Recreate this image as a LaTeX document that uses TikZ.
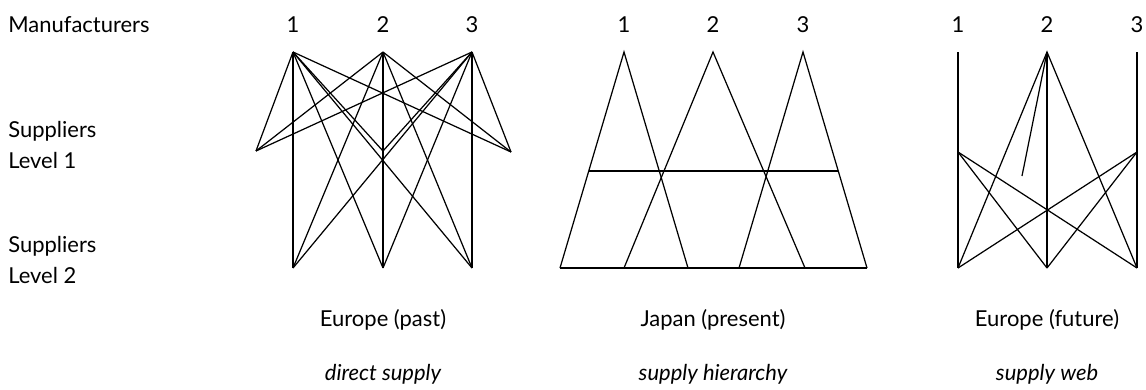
\documentclass[tikz,border=0pt]{standalone}
\usepackage{fontspec}
\setmainfont{Lato}
\usetikzlibrary{positioning,calc}
\tikzset{
  link/.style={draw=black,line width=0.7pt},
  rowlabel/.style={anchor=base west,inner sep=0pt,font=\fontsize{12.5}{15}\selectfont},
  maker/.style={anchor=base,inner sep=0pt,font=\fontsize{12.5}{15}\selectfont},
  region/.style={anchor=base,inner sep=0pt,font=\fontsize{12.5}{15}\selectfont},
  mode/.style={anchor=base,inner sep=0pt,font=\fontsize{12.5}{15}\selectfont\itshape}
}

\begin{document}
\begin{tikzpicture}[x=0.02cm,y=-0.02cm]
  \useasboundingbox (0,0) rectangle (1146,389);

  % row labels
  \node[rowlabel] (manu) at (8,32) {Manufacturers};
  \node[rowlabel] (supA) at (8,137) {Suppliers};
  \node[rowlabel] (lvlA) at (8,168) {Level 1};
  \node[rowlabel] (supB) at (8,252) {Suppliers};
  \node[rowlabel] (lvlB) at (8,283) {Level 2};

  % Europe (past): direct supply
  \coordinate (p1) at (293,52);
  \coordinate (p2) at (383,52);
  \coordinate (p3) at (472,52);
  \coordinate (pa) at (256,151);
  \coordinate (pb) at (383,151);
  \coordinate (pc) at (511,152);
  \coordinate (pd) at (293,268);
  \coordinate (pe) at (383,268);
  \coordinate (pf) at (472,268);
  \foreach \m in {p1,p2,p3}
    \foreach \s in {pa,pb,pc,pd,pe,pf}
      \draw[link] (\m) -- (\s);

  % Japan (present): supply hierarchy
  \coordinate (j1) at (624,52);
  \coordinate (j2) at (713,52);
  \coordinate (j3) at (803,52);
  \coordinate (ja) at (560,268);
  \coordinate (jb) at (624,268);
  \coordinate (jc) at (688,268);
  \coordinate (jd) at (739,268);
  \coordinate (je) at (805,268);
  \coordinate (jf) at (867,268);
  \draw[link] (ja) -- (j1) -- (jc);
  \draw[link] (jb) -- (j2) -- (je);
  \draw[link] (jd) -- (j3) -- (jf);
  \draw[link] (ja) -- (jf);
  \draw[link] ($(j1)!0.551!(ja)$) -- ($(j3)!0.551!(jf)$);

  % Europe (future): supply web
  \coordinate (f1) at (958,52);
  \coordinate (f2) at (1047,52);
  \coordinate (f3) at (1137,52);
  \coordinate (fa) at (958,152);
  \coordinate (fc) at (1137,152);
  \coordinate (fd) at (958,268);
  \coordinate (fe) at (1047,268);
  \coordinate (ff) at (1137,268);
  \coordinate (fstub) at (1022,176);
  \draw[link] (f1) -- (fd);
  \draw[link] (f3) -- (ff);
  \draw[link] (f2) -- (fe);
  \draw[link] (fd) -- (f2) -- (ff);
  \draw[link] (f2) -- (fstub);
  \draw[link] (fa) -- (fe);
  \draw[link] (fa) -- (ff);
  \draw[link] (fc) -- (fe);
  \draw[link] (fc) -- (fd);

  % manufacturer numbers
  \foreach \x/\n [count=\i] in {293/1,383/2,472/3,624/1,713/2,803/3,958/1,1047/2,1137/3}
    \node[maker] (num\i) at (\x,32) {\n};

  % captions
  \node[region] (capA) at (383,326) {Europe (past)};
  \node[region] (capB) at (713,326) {Japan (present)};
  \node[region] (capC) at (1047,326) {Europe (future)};
  \node[mode] (typA) at (383,380) {direct supply};
  \node[mode] (typB) at (713,380) {supply hierarchy};
  \node[mode] (typC) at (1047,380) {supply web};
\end{tikzpicture}
\end{document}
